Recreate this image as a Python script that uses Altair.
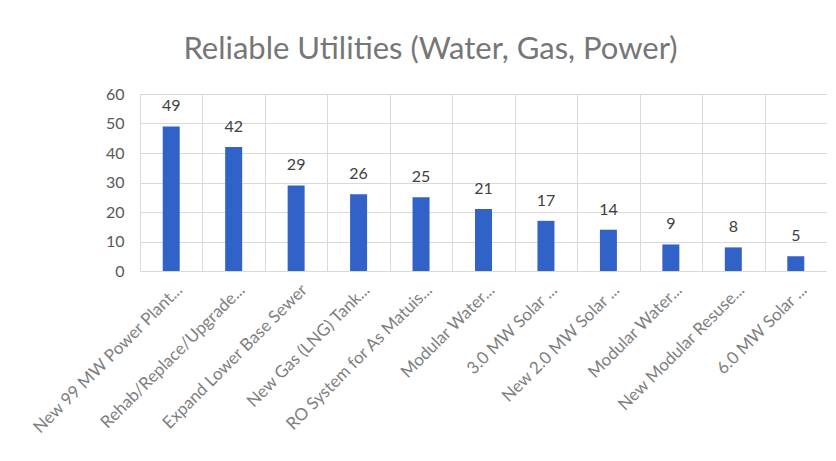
import altair as alt
import pandas as pd

categories = [
    "New 99 MW Power Plant...",
    "Rehab/Replace/Upgrade...",
    "Expand Lower Base Sewer",
    "New Gas (LNG) Tank...",
    "RO System for As Matuis...",
    "Modular Water...",
    "3.0 MW Solar ...",
    "New 2.0 MW Solar ...",
    "Modular Water...",
    "New Modular Resuse...",
    "6.0 MW Solar ...",
]
values = [49, 42, 29, 26, 25, 21, 17, 14, 9, 8, 5]
y_ticks = [0, 10, 20, 30, 40, 50, 60]

# make duplicate labels unique while displaying the same text
keys = [f"{i:02d}|{c}" for i, c in enumerate(categories)]
df = pd.DataFrame({"key": keys, "label": categories, "value": values})

label_expr = "split(datum.label, '|')[1]"

x_enc = alt.X(
    "key:N",
    sort=keys,
    scale=alt.Scale(paddingInner=0, paddingOuter=0),
    axis=alt.Axis(
        title=None,
        labelExpr=label_expr,
        labelAngle=-45,
        labelAlign="right",
        labelBaseline="middle",
        labelFont="Lato",
        labelFontSize=17,
        labelColor="#7f7f7f",
        labelPadding=16,
        labelOffset=8,
        labelOverlap=False,
        ticks=False,
        domain=False,
        grid=True,
        tickBand="extent",
        gridColor="#d9d9d9",
        gridWidth=1,
        labelLimit=400,
    ),
)

y_enc = alt.Y(
    "value:Q",
    scale=alt.Scale(domain=[0, 60], nice=False),
    axis=alt.Axis(
        title=None,
        values=y_ticks,
        ticks=False,
        domain=False,
        grid=True,
        gridColor="#d9d9d9",
        gridWidth=1,
        labelFont="Lato",
        labelFontSize=16,
        labelColor="#595959",
        labelPadding=16,
        labelOverlap=False,
    ),
)

base = alt.Chart(df)

bars = base.mark_bar(color="#3162c8", size=17).encode(x=x_enc, y=y_enc)

text = base.mark_text(
    baseline="bottom", dy=-12, font="Lato", fontSize=16, color="#404040"
).encode(x=x_enc, y=y_enc, text="value:Q")

chart = (
    alt.layer(bars, text)
    .properties(
        width=687,
        height=177,
        title=alt.TitleParams(
            "Reliable Utilities (Water, Gas, Power)",
            font="Lato",
            fontSize=31,
            fontWeight="normal",
            color="#767676",
            anchor="middle",
            dx=-53,
            offset=20,
        ),
        autosize=alt.AutoSizeParams(type="none"),
        padding={"left": 132, "top": 86, "right": 0, "bottom": 178},
    )
    .configure_view(fill="#efefef", stroke="#d9d9d9")
    .configure(background="white")
)

chart.save("out.html", embed_options={"renderer": "svg", "actions": False})
